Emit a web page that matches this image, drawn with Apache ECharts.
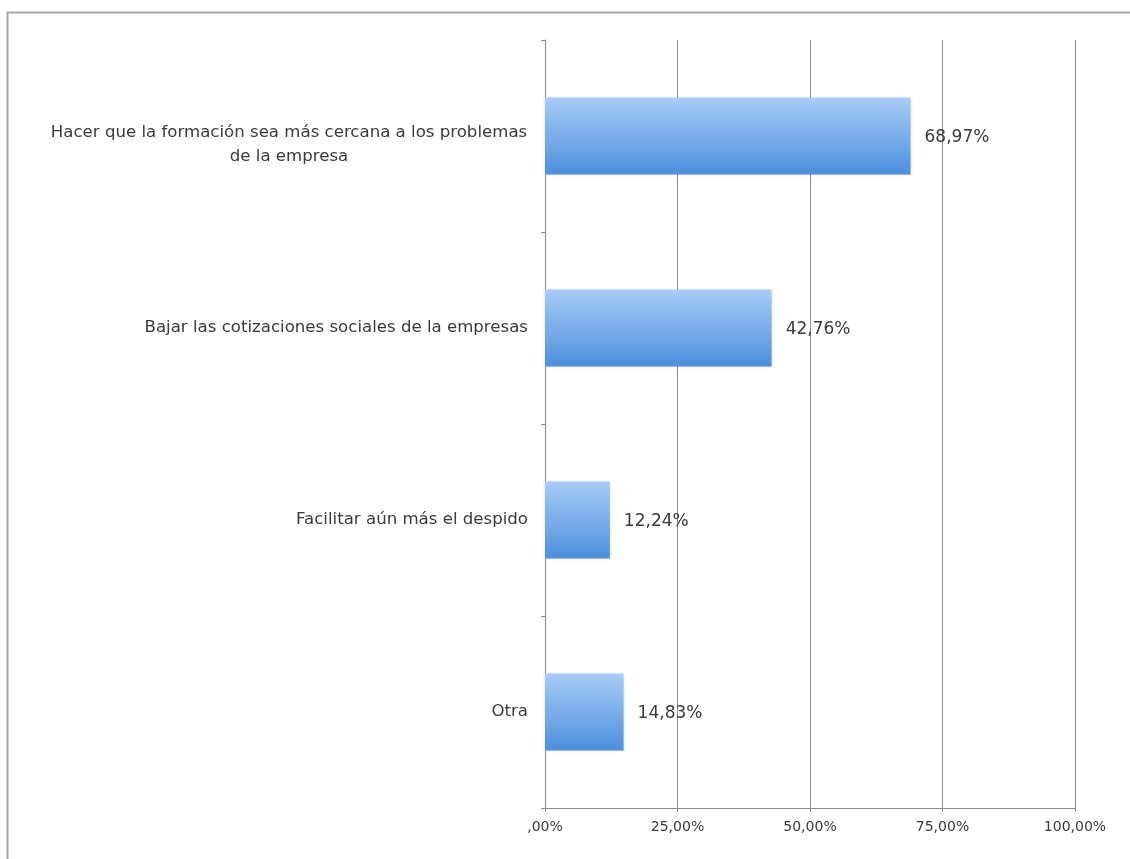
<!DOCTYPE html>
<html>
<head>
<meta charset="utf-8">
<script src="https://cdn.jsdelivr.net/npm/echarts@6/dist/echarts.min.js"></script>
<style>
html, body { margin: 0; padding: 0; background: #fff; }
#chart { width: 1130px; height: 859px; }
</style>
</head>
<body>
<div id="chart"></div>
<script>
// datos
var categorias = [
    'Hacer que la formación sea más cercana a los problemas\nde la empresa',
    'Bajar las cotizaciones sociales de la empresas',
    'Facilitar aún más el despido',
    'Otra'
];
var valores = [68.97, 42.76, 12.24, 14.83];
var ticksX = [0, 25, 50, 75, 100];

function fmtPct(v) {
    var s = Number(v).toFixed(2).replace('.', ',');
    if (s.indexOf('0,') === 0) s = s.substring(1);
    return s + '%';
}

var fuente = 'DejaVu Sans';
var tam = 16.6;
var colorTexto = '#3a3a3a';
var myChart = echarts.init(document.getElementById('chart'));
var option = {
    backgroundColor: '#fff',
    animation: false,
    graphic: [{
        type: 'rect',
        shape: { x: 7.5, y: 12.5, width: 1140, height: 900 },
        style: { fill: 'none', stroke: '#a8a8a8', lineWidth: 2 },
        silent: true
    }],
    grid: { left: 545, right: 55, top: 40, bottom: 51 },
    xAxis: {
        type: 'value',
        min: ticksX[0],
        max: ticksX[ticksX.length - 1],
        interval: 25,
        axisLine: { show: true, lineStyle: { color: '#888', width: 1 } },
        axisTick: { show: true, length: 4, lineStyle: { color: '#888' } },
        splitLine: { show: true, lineStyle: { color: '#8c8c8c', width: 1 } },
        axisLabel: {
            formatter: fmtPct,
            color: colorTexto,
            fontFamily: fuente,
            fontSize: 14,
            margin: 12
        }
    },
    yAxis: {
        type: 'category',
        inverse: true,
        data: categorias,
        axisLine: { show: true, lineStyle: { color: '#888', width: 1 } },
        axisTick: { show: true, length: 4, inside: false, lineStyle: { color: '#888' } },
        axisLabel: {
            color: colorTexto,
            fontFamily: fuente,
            fontSize: tam,
            margin: 17,
            lineHeight: 24,
            formatter: function (v) {
                if (v.indexOf('\n') >= 0) {
                    // linea vacia arriba para bajar el bloque
                    return '{p|}\n' + v.split('\n').map(function (l) { return '{c|' + l + '}'; }).join('\n');
                }
                return v;
            },
            rich: {
                p: { lineHeight: 18, fontSize: 1 },
                c: { width: 478, align: 'center', fontFamily: fuente, fontSize: tam, color: colorTexto, lineHeight: 24 }
            }
        }
    },
    series: [{
        name: 'Respuestas',
        type: 'bar',
        data: valores,
        barWidth: '40%',
        itemStyle: {
            color: new echarts.graphic.LinearGradient(0, 0, 0, 1, [
                { offset: 0, color: '#a8cdf8' },
                { offset: 1, color: '#4b8fdd' }
            ]),
            shadowColor: 'rgba(0,0,0,0.15)',
            shadowBlur: 3,
            shadowOffsetY: 1
        },
        label: {
            show: true,
            position: 'right',
            distance: 14,
            offset: [0, 2],
            formatter: function (p) { return fmtPct(p.value); },
            color: colorTexto,
            fontFamily: fuente,
            fontSize: 17
        }
    }]
};

myChart.setOption(option);
</script>
</body>
</html>
